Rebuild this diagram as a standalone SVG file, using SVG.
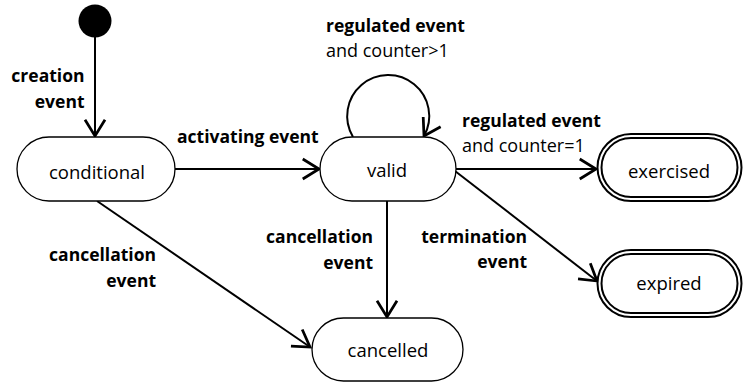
<svg xmlns="http://www.w3.org/2000/svg" width="743" height="383" viewBox="0 0 743 383">
<style>
text{font-family:"Open Sans","Noto Sans","Liberation Sans",sans-serif;fill:#000}
.n{font-size:18.5px}
.b{font-size:17.5px;font-weight:bold}
.r{font-size:18px}
.node{fill:#fff;stroke:#000;stroke-width:1.3}
.fin{fill:#fff;stroke:#000;stroke-width:2}
.c{fill:none;stroke:#000;stroke-width:2}
</style>
<defs>
<marker id="arr" markerUnits="userSpaceOnUse" markerWidth="30" markerHeight="30" refX="0" refY="0" viewBox="-16 -12 20 24" orient="auto" overflow="visible">
<path d="M -13 -8 L 0 0 L -13 8" fill="none" stroke="#000" stroke-width="2.2"/>
</marker>
</defs>
<g id="connectors">
<line class="c" x1="95" y1="37" x2="95" y2="136" marker-end="url(#arr)"/>
<line class="c" x1="175" y1="169" x2="319" y2="169" marker-end="url(#arr)"/>
<path class="c" d="M 353 137 A 41 41 0 1 1 424 136" marker-end="url(#arr)"/>
<line class="c" x1="456" y1="169" x2="596" y2="169" marker-end="url(#arr)"/>
<line class="c" x1="455" y1="171" x2="597" y2="281" marker-end="url(#arr)"/>
<line class="c" x1="387" y1="201" x2="387" y2="317" marker-end="url(#arr)"/>
<line class="c" x1="97" y1="201" x2="310" y2="347" marker-end="url(#arr)"/>
</g>
<g id="initial">
<circle cx="95" cy="21" r="16.5" fill="#000"/>
</g>
<g id="conditional">
<rect class="node" x="17" y="137" width="158" height="64" rx="32"/>
<text class="n" x="97" y="179" text-anchor="middle">conditional</text>
</g>
<g id="valid">
<rect class="node" x="320" y="137" width="136" height="64" rx="32"/>
<text class="n" x="387" y="177" text-anchor="middle">valid</text>
</g>
<g id="cancelled">
<rect class="node" x="312" y="318" width="151" height="63" rx="31.5"/>
<text class="n" x="388" y="357" text-anchor="middle">cancelled</text>
</g>
<g id="exercised">
<rect class="fin" x="597.5" y="134" width="144" height="67" rx="33.5"/>
<rect class="fin" x="601.5" y="138" width="136" height="59" rx="29.5"/>
<text class="n" x="669" y="178" text-anchor="middle">exercised</text>
</g>
<g id="expired">
<rect class="fin" x="597.5" y="250" width="144" height="67" rx="33.5"/>
<rect class="fin" x="601.5" y="254" width="136" height="59" rx="29.5"/>
<text class="n" x="669" y="290" text-anchor="middle">expired</text>
</g>
<g id="labels">
<text class="b" x="84.5" y="82" text-anchor="end">creation</text>
<text class="b" x="84.5" y="108" text-anchor="end">event</text>
<text class="b" x="177" y="143">activating event</text>
<text class="b" x="326" y="32">regulated event</text>
<text class="r" x="326" y="57">and counter&gt;1</text>
<text class="b" x="462" y="127">regulated event</text>
<text class="r" x="462" y="152">and counter=1</text>
<text class="b" x="156" y="261" text-anchor="end">cancellation</text>
<text class="b" x="156" y="287" text-anchor="end">event</text>
<text class="b" x="373" y="243" text-anchor="end">cancellation</text>
<text class="b" x="373" y="269" text-anchor="end">event</text>
<text class="b" x="527" y="243" text-anchor="end">termination</text>
<text class="b" x="527" y="268" text-anchor="end">event</text>
</g>
</svg>
